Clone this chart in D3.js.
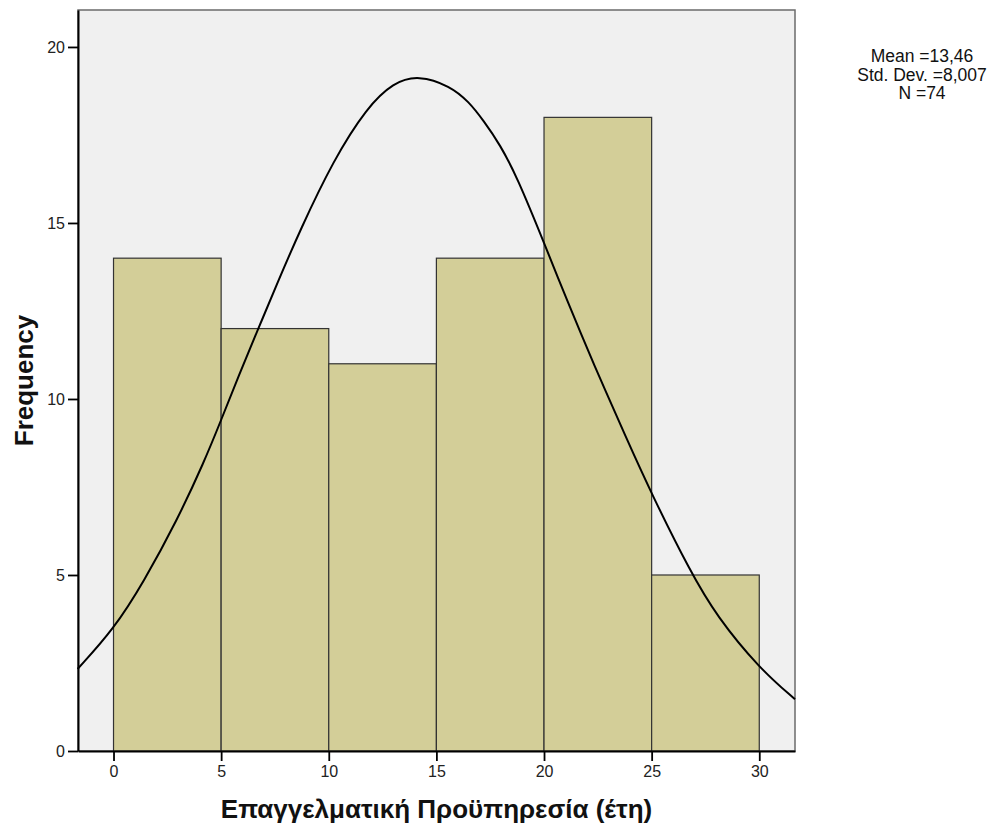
<!DOCTYPE html>
<html>
<head>
<meta charset="utf-8">
<script src="https://cdn.jsdelivr.net/npm/d3@7"></script>
<style>
  body { margin: 0; background: #fff; }
  text { font-family: "Liberation Sans", Arial, sans-serif; }
</style>
</head>
<body>
<div id="chart"></div>
<script>
// histogram bins (years of experience) and their counts
var binStart = [0, 5, 10, 15, 20, 25];
var binEnd = [5, 10, 15, 20, 25, 30];
var counts = [14, 12, 11, 14, 18, 5];

// normal curve, points
var curveX = [-1.67, 0, 1.4, 2.95, 4.2, 5.0, 5.81, 6.73, 7.6, 8.67, 10.22, 11.77, 13.0, 14.17,
              15.64, 16.5, 17.2, 17.96, 18.74, 20.04, 21.06, 22.3, 23.85, 25.0, 26.79, 28.03, 30.0, 31.66];
var curveY = [2.33, 3.45, 4.8, 6.55, 8.2, 9.4, 10.66, 12.0, 13.28, 14.8, 16.79, 18.28, 18.99, 19.2,
              18.89, 18.45, 17.9, 17.22, 16.32, 14.38, 12.81, 11.0, 8.85, 7.3, 5.1, 3.82, 2.35, 1.47];

var xTicks = [0, 5, 10, 15, 20, 25, 30];
var yTicks = [0, 5, 10, 15, 20];
var statsLines = ["Mean =13,46", "Std. Dev. =8,007", "N =74"];

var svgWidth = 998;
var svgHeight = 839;

var plot = { left: 78, right: 795, top: 10, bottom: 751 };

var svg = d3.select("#chart")
  .append("svg")
  .attr("width", svgWidth)
  .attr("height", svgHeight);

var x = d3.scaleLinear()
  .domain([-1.65, 31.66])
  .range([plot.left, plot.right]);

var y = d3.scaleLinear()
  .domain([0, 21.05])
  .range([plot.bottom, plot.top]);

// plot background + frame
svg.append("rect")
  .attr("x", plot.left)
  .attr("y", plot.top)
  .attr("width", plot.right - plot.left)
  .attr("height", plot.bottom - plot.top)
  .attr("fill", "#f0f0f0")
  .attr("stroke", "#6b6b6b")
  .attr("stroke-width", 1.5);

// bars
svg.selectAll(".bar")
  .data(counts)
  .enter()
  .append("rect")
  .attr("class", "bar")
  .attr("x", (d, i) => x(binStart[i]))
  .attr("y", d => y(d))
  .attr("width", (d, i) => x(binEnd[i]) - x(binStart[i]))
  .attr("height", d => y(0) - y(d))
  .attr("fill", "#d3ce98")
  .attr("stroke", "#333")
  .attr("stroke-width", 1.2);

// normal curve (b-spline smooths out reading noise)
var line = d3.line()
  .x((d, i) => x(curveX[i]))
  .y(d => y(d))
  .curve(d3.curveBasis);

svg.append("path")
  .datum(curveY)
  .attr("d", line)
  .attr("fill", "none")
  .attr("stroke", "#000")
  .attr("stroke-width", 2);

// axes
var leftAxis = d3.axisLeft(y).tickValues(yTicks).tickSize(10).tickSizeOuter(0).tickPadding(3);
var bottomAxis = d3.axisBottom(x).tickValues(xTicks).tickSize(10).tickSizeOuter(0).tickPadding(5);

var gy = svg.append("g")
  .attr("transform", `translate(${plot.left}, 0)`)
  .call(leftAxis);

var gx = svg.append("g")
  .attr("transform", `translate(0, ${plot.bottom})`)
  .call(bottomAxis);

[gx, gy].forEach(function(g) {
  g.select(".domain").attr("stroke", "#000").attr("stroke-width", 2);
  g.selectAll(".tick line").attr("stroke", "#000").attr("stroke-width", 1.8);
  g.selectAll(".tick text")
    .attr("fill", "#222")
    .style("font-size", "16px")
    .style("font-family", "Liberation Sans, Arial, sans-serif");
});

// axis titles
svg.append("text")
  .attr("transform", `translate(33, ${(plot.top + plot.bottom) / 2}) rotate(-90)`)
  .attr("text-anchor", "middle")
  .style("font-size", "26px")
  .style("font-weight", "bold")
  .attr("fill", "#111")
  .text("Frequency");

svg.append("text")
  .attr("x", (plot.left + plot.right) / 2)
  .attr("y", 818)
  .attr("text-anchor", "middle")
  .style("font-size", "26px")
  .style("font-weight", "bold")
  .attr("fill", "#111")
  .text("Επαγγελματική Προϋπηρεσία (έτη)");

// stats box
svg.selectAll(".stat")
  .data(statsLines)
  .enter()
  .append("text")
  .attr("class", "stat")
  .attr("x", 922)
  .attr("y", (d, i) => 62 + i * 18.5)
  .attr("text-anchor", "middle")
  .style("font-size", "17.5px")
  .attr("fill", "#111")
  .text(d => d);
</script>
</body>
</html>
